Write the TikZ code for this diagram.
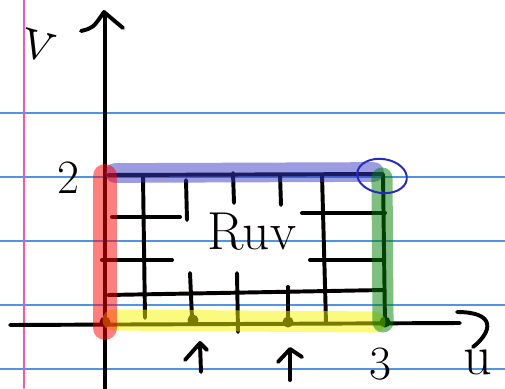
\documentclass[tikz,border=0pt]{standalone}
\definecolor{ruled}{RGB}{75,150,230}
\definecolor{margin}{RGB}{255,80,180}
\definecolor{penblue}{RGB}{40,40,200}
\definecolor{hlblue}{RGB}{55,55,195}
\definecolor{hlyellow}{RGB}{245,245,0}
\begin{document}
\begin{tikzpicture}[x=0.025cm, y=-0.025cm, line cap=round, line join=round,
    ink/.style={black, line width=2.8pt},
    hilite/.style={line width=15pt, opacity=0.5},
    hand/.style={inner sep=0pt, font=\fontsize{34}{36}\selectfont}]
  \useasboundingbox (0,0) rectangle (505,388);
  % paper
  \foreach \y in {113,177,241,305,369} \draw[ruled, line width=0.9pt] (0,\y) -- (505,\y);
  \draw[margin, line width=1pt] (24,0) -- (24,388);
  % axes
  \draw[ink] (105,388) -- (105,14);
  \draw[ink] (81,31) .. controls (93,28) .. (104,12) -- (123,28);
  \draw[ink] (10,325) -- (460,323);
  \draw[ink] (457,312) .. controls (497,312) and (492,332) .. (473,347);
  \node[hand, font=\fontsize{48}{50}\selectfont, rotate=-15] (lblv) at (38,46) {v};
  \node[hand, font=\fontsize{40}{42}\selectfont] (lblu) at (478,362) {u};
  \node[hand] (lbltwo) at (68,178) {2};
  \node[hand] (lblthree) at (380,364) {3};
  % grid in the region
  \draw[ink] (108,175) -- (383,174) -- (385,325);
  \foreach \a/\b in {143/176, 186/180, 233/173, 280/175, 322/175, 190/273, 237/273, 288/287} {
    \coordinate (top\a) at (\a,\b);
  }
  \draw[ink] (top143) -- (145,318);
  \draw[ink] (top186) -- (187,220);
  \draw[ink] (top233) -- (234,203);
  \draw[ink] (top280) -- (281,205);
  \draw[ink] (top322) -- (326,323);
  \draw[ink] (top190) -- (192,318);
  \draw[ink] (top237) -- (238,332);
  \draw[ink] (top288) -- (288,322);
  \draw[ink] (112,217) -- (180,217);
  \draw[ink] (102,260) -- (172,260);
  \draw[ink] (108,295) -- (384,290);
  \draw[ink] (302,213) -- (385,213);
  \draw[ink] (310,260) -- (383,260);
  \node[inner sep=0pt, font=\fontsize{38}{40}\selectfont] (region) at (252,232) {Ruv};
  % points on the u-axis
  \foreach \x/\y in {105/322, 193/320, 288/322, 385/322} \fill (\x,\y) circle (5.5);
  \draw[ink] (185,360) -- (200,343) -- (207,350);
  \draw[ink] (200,344) -- (201,372);
  \draw[ink] (278,362) -- (290,349) -- (302,357);
  \draw[ink] (290,350) -- (290,380);
  % highlighted edges
  \draw[hilite, hlyellow, line width=15pt] (113,320) -- (375,322);
  \draw[hilite, hlblue, line width=14pt] (115,173) -- (374,172);
  \draw[hilite, red, line width=17pt] (105,176) -- (105,328);
  \draw[hilite, green!50!black, line width=15pt] (382,178) -- (383,322);
  \draw[penblue, line width=1.4pt, rotate around={-8:(382,176)}] (382,176) ellipse (25 and 17);
\end{tikzpicture}
\end{document}
